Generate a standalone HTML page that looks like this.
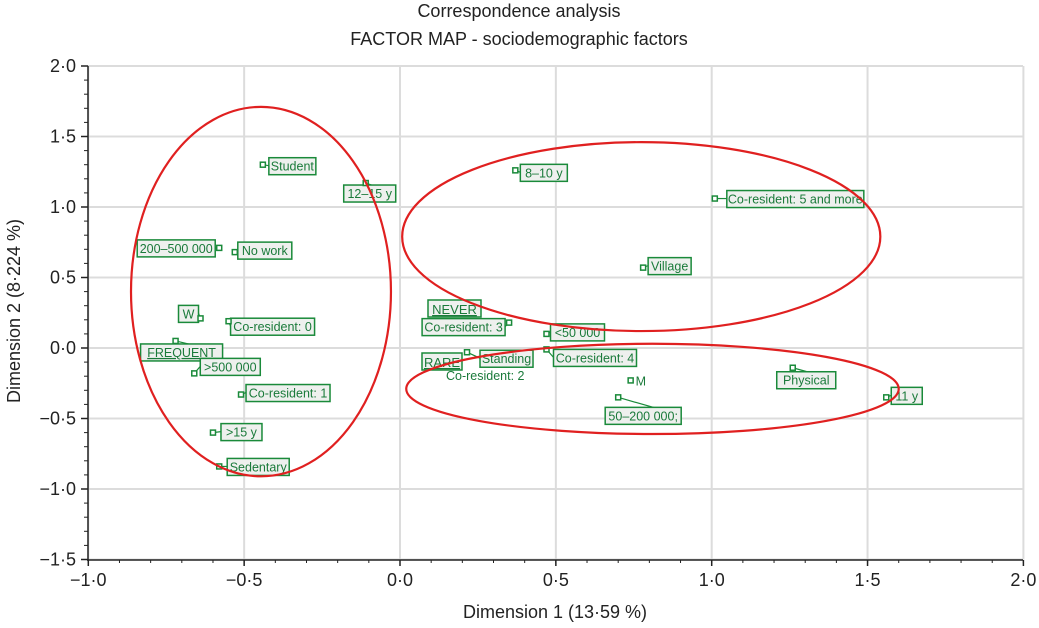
<!DOCTYPE html>
<html><head><meta charset="utf-8"><style>
body{margin:0;background:#fff;}
svg{display:block;font-family:"Liberation Sans",sans-serif;}
</style></head><body>
<svg id="c" width="1039" height="628"></svg>
<script>
const xTicks=[-1.0,-0.5,0.0,0.5,1.0,1.5,2.0];
const yTicks=[-1.5,-1.0,-0.5,0.0,0.5,1.0,1.5,2.0];
const pointLabels=["Student","12–15 y","200–500 000","No work","W","Co-resident: 0","FREQUENT",">500 000","Co-resident: 1",">15 y","Sedentary","8–10 y","Co-resident: 5 and more","Village","Co-resident: 3","<50 000","Co-resident: 4","Standing","M","50–200 000;","Physical","11 y"];
const pointX=[-0.44,-0.11,-0.58,-0.53,-0.64,-0.55,-0.72,-0.66,-0.51,-0.60,-0.58,0.37,1.01,0.78,0.35,0.47,0.47,0.215,0.74,0.70,1.26,1.56];
const pointY=[1.30,1.17,0.71,0.68,0.21,0.19,0.05,-0.18,-0.33,-0.60,-0.84,1.26,1.06,0.57,0.18,0.10,-0.01,-0.03,-0.23,-0.35,-0.14,-0.35];
// label box offsets relative to the point (pixels, layout only)
const boxDX=[6,-22,-82,3,-22,2,-35,6,5,8,8,5,12,5,-87,4,7,13,5,-13,-16,5];
const boxDY=[-7,2,-8,-10,-13,-3,3,-15,-10,-9,-8,-6,-8,-10,-4,-10,0,-2,-8,10,4,-10];
const boxW=[47,52,78,54,20,84,82,60,84,41,62,47,137,43,83,54,83,53,0,76,59,31];
const boxed=[1,1,1,1,1,1,1,1,1,1,1,1,1,1,1,1,1,1,0,1,1,1];
const ellipses=[[-0.446,0.40,0.417,1.31],[0.774,0.79,0.767,0.67],[0.81,-0.29,0.79,0.32]];

const X0=400,XS=311.7,Y0=348,YS=141;
const sx=v=>X0+v*XS, sy=v=>Y0-v*YS;
const svg=document.getElementById('c');
const NS='http://www.w3.org/2000/svg';
function mk(t,a,p){const e=document.createElementNS(NS,t);for(const k in a)e.setAttribute(k,a[k]);(p||svg).appendChild(e);return e;}

const title=mk('text',{x:519,y:17,'text-anchor':'middle','font-size':18,fill:'#222'});
title.textContent='Correspondence analysis';


const sub=mk('text',{x:519,y:45,'text-anchor':'middle','font-size':18,fill:'#222'});
sub.textContent='FACTOR MAP - sociodemographic factors';



xTicks.forEach(t=>{
  const g=mk('line',{x1:sx(t),x2:sx(t),y1:sy(2.0),y2:sy(-1.5),stroke:'#dcdcdc','stroke-width':2});
  
  
  mk('line',{x1:sx(t),x2:sx(t),y1:560,y2:566,stroke:'#222','stroke-width':1.5});
  const l=mk('text',{x:sx(t),y:586,'text-anchor':'middle','font-size':18,fill:'#222'});
  l.textContent=t.toFixed(1).replace('.','·').replace('-','−');
  
  
});
for(let v=-1.0;v<=2.0001;v+=0.1){mk('line',{x1:sx(v),x2:sx(v),y1:560,y2:563,stroke:'#222','stroke-width':1});}
yTicks.forEach(t=>{
  const g=mk('line',{x1:88,x2:1023,y1:sy(t),y2:sy(t),stroke:'#dcdcdc','stroke-width':2});
  
  
  mk('line',{x1:81,x2:88,y1:sy(t),y2:sy(t),stroke:'#222','stroke-width':1.5});
  const l=mk('text',{x:76,y:sy(t)+6,'text-anchor':'end','font-size':18,fill:'#222'});
  l.textContent=t.toFixed(1).replace('.','·').replace('-','−');
  
  
});
for(let v=-1.5;v<=2.0001;v+=0.1){mk('line',{x1:84,x2:88,y1:sy(v),y2:sy(v),stroke:'#222','stroke-width':1});}
const ax=mk('line',{x1:88,x2:88,y1:sy(2.0),y2:561,stroke:'#222','stroke-width':1.5});


const bx=mk('line',{x1:87,x2:1023,y1:560,y2:560,stroke:'#222','stroke-width':1.5});



const xt=mk('text',{x:555,y:618,'text-anchor':'middle','font-size':18,fill:'#222'});
xt.textContent='Dimension 1 (13·59 %)';


const yt=mk('text',{x:0,y:0,'text-anchor':'middle','font-size':18,fill:'#222',transform:'translate(20,311) rotate(-90)'});
yt.textContent='Dimension 2 (8·224 %)';



[['NEVER',428,300,53],['RARE',422,353,40]].forEach(b=>{
  const g=mk('g',{});
  
  
  mk('rect',{x:b[1],y:b[2],width:b[3],height:17,fill:'#eef0ee',stroke:'#1a8a3a','stroke-width':1.5},g);
  const t=mk('text',{x:b[1]+b[3]/2,y:b[2]+14,'text-anchor':'middle','font-size':13,fill:'#1a7a3a','text-decoration':'underline'},g);
  t.textContent=b[0];
});

pointLabels.forEach((n,i)=>{
  const px=sx(pointX[i]),py=sy(pointY[i]);
  const g=mk('g',{});
  
  
  const bxp=px+boxDX[i],byp=py+boxDY[i];
  if(boxed[i]){
    mk('line',{x1:px,y1:py,x2:bxp+(boxDX[i]<0?boxW[i]:0),y2:byp+8,stroke:'#1a8a3a','stroke-width':1.2},g);
    mk('rect',{x:bxp,y:byp,width:boxW[i],height:17,fill:'#eef0ee',stroke:'#1a8a3a','stroke-width':1.5},g);
  }
  mk('rect',{x:px-2.5,y:py-2.5,width:5,height:5,fill:'#fff',stroke:'#1a8a3a','stroke-width':1.5},g);
  const t=mk('text',{x:boxed[i]?bxp+boxW[i]/2:bxp,y:byp+13,'text-anchor':boxed[i]?'middle':'start','font-size':12.5,fill:'#1a7a3a'},g);
  if(n==='FREQUENT')t.setAttribute('text-decoration','underline');
  t.textContent=n;
});
const c2=mk('text',{x:446,y:380,'font-size':12.5,fill:'#1a7a3a'});
c2.textContent='Co-resident: 2';



ellipses.forEach((e,i)=>{
  const el=mk('ellipse',{cx:sx(e[0]),cy:sy(e[1]),rx:e[2]*XS,ry:e[3]*YS,fill:'none',stroke:'#e02020','stroke-width':2.2});
  
  
});
</script>
</body></html>
